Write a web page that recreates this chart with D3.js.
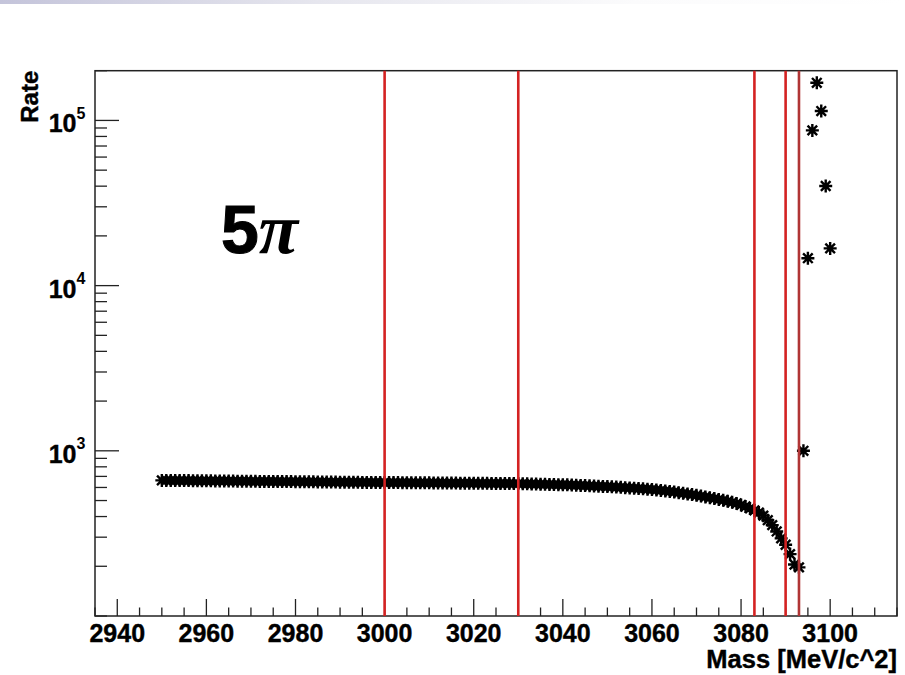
<!DOCTYPE html>
<html><head><meta charset="utf-8">
<script src="https://cdn.jsdelivr.net/npm/d3@7"></script>
<style>body{margin:0;background:#fff}svg{display:block}</style>
</head><body>
<script>
// ---- data ----
const curveStartMass = 2950;
const curveRates = [
 662,662,661,661,660,660,660,659,659,658,
 658,658,657,657,657,656,656,655,655,655,
 654,654,653,653,653,652,652,651,651,651,
 650,650,649,649,649,648,648,647,647,647,
 646,646,645,645,645,644,644,644,643,643,
 643,642,642,642,641,641,641,640,640,640,
 640,639,639,639,638,638,638,637,637,637,
 637,636,636,636,635,635,634,634,634,633,
 633,632,631,630,629,628,627,626,625,624,
 623,622,620,619,617,616,614,612,610,609,
 607,605,603,601,598,596,594,591,589,586,
 583,580,576,572,568,563,558,553,548,543,
 538,532,526,520,514,508,502,495,488,480,
 470,460,448,436,423,405,380,355,325,295,
 270,237,205,197
];
const curveMasses = curveRates.map((_, i) => curveStartMass + i);
const peakMasses = [3094, 3095, 3096, 3097, 3098, 3099, 3100];
const peakRates  = [1000, 14650, 87000, 169000, 114000, 40100, 16800];
const cutMasses = [3000, 3030, 3083, 3090, 3093];
const xMajorTicks = [2940, 2960, 2980, 3000, 3020, 3040, 3060, 3080, 3100];
const yDecadeExps = [3, 4, 5];
const xDomain = [2935, 3115];
const yDomain = [100, 200000];
const xTitle = "Mass [MeV/c^2]";
const yTitle = "Rate";
const channelLabel = ["5", "π"];

// ---- layout ----
const W = 905, H = 675;
const L = 95, R = 897, T = 70.7, B = 616;
const svg = d3.select("body").append("svg").attr("width", W).attr("height", H);
svg.append("rect").attr("width", W).attr("height", H).attr("fill", "#fff");

// top gradient band
const defs = svg.append("defs");
const gr = defs.append("linearGradient").attr("id", "topg").attr("x1", "0").attr("x2", "1");
gr.append("stop").attr("offset", "0").attr("stop-color", "#c4c4da");
gr.append("stop").attr("offset", "0.35").attr("stop-color", "#e6e6ee");
gr.append("stop").attr("offset", "0.7").attr("stop-color", "#fbfbfc");
gr.append("stop").attr("offset", "1").attr("stop-color", "#ffffff");
svg.append("rect").attr("x", 0).attr("y", 0).attr("width", W).attr("height", 4).attr("fill", "url(#topg)");

const x = d3.scaleLinear().domain(xDomain).range([L, R]);
const y = d3.scaleLog().domain(yDomain).range([B, T]);

const FONT = "'Liberation Sans', Arial, Helvetica, sans-serif";
const axisColor = "#222";

// x axis ticks
const xAll = d3.range(xDomain[0], xDomain[1] + 0.01, 5);
const xAxis = d3.axisBottom(x).tickValues(xAll).tickSize(0).tickFormat("");
svg.append("g").attr("transform", `translate(0,${B})`).call(xAxis).call(g => g.select(".domain").remove());
svg.append("g").selectAll("line").data(xAll).join("line")
  .attr("x1", d => x(d)).attr("x2", d => x(d))
  .attr("y1", B).attr("y2", d => B - (xMajorTicks.includes(d) ? 17 : 8.5))
  .attr("stroke", axisColor).attr("stroke-width", 1.3);
svg.append("g").selectAll("text").data(xMajorTicks).join("text")
  .attr("x", d => x(d)).attr("y", 641.5)
  .attr("text-anchor", "middle")
  .attr("font-family", FONT).attr("font-weight", "bold").attr("font-size", 25)
  .attr("stroke", "#000").attr("stroke-width", 0.4)
  .attr("fill", "#000").text(d => d);

// y axis ticks
const yMinor = [];
for (let e = 2; e <= 5; e++) for (let m = 1; m <= 9; m++) {
  const v = m * Math.pow(10, e);
  if (v >= yDomain[0] && v <= yDomain[1]) yMinor.push(v);
}
svg.append("g").selectAll("line").data(yMinor).join("line")
  .attr("x1", L).attr("x2", d => L + (yDecadeExps.some(e => Math.abs(Math.pow(10, e) - d) < 1e-6) ? 24 : 12))
  .attr("y1", d => y(d)).attr("y2", d => y(d))
  .attr("stroke", axisColor).attr("stroke-width", 1.3);
svg.append("g").selectAll("text").data(yDecadeExps).join("text")
  .attr("x", 76.5).attr("y", d => y(Math.pow(10, d)) + 12)
  .attr("text-anchor", "end")
  .attr("font-family", FONT).attr("font-weight", "bold").attr("font-size", 25)
  .attr("stroke", "#000").attr("stroke-width", 0.4)
  .attr("fill", "#000").text("10");
svg.append("g").selectAll("text").data(yDecadeExps).join("text")
  .attr("x", 76.5).attr("y", d => y(Math.pow(10, d)) - 1.5)
  .attr("font-family", FONT).attr("font-weight", "bold").attr("font-size", 16)
  .attr("fill", "#000").text(d => d);

// frame
svg.append("rect").attr("x", L).attr("y", T).attr("width", R - L).attr("height", B - T)
  .attr("fill", "none").attr("stroke", axisColor).attr("stroke-width", 1.5);

// markers
const star = "M-6.5,0H6.5M0,-6.5V6.5M-4.8,-4.8L4.8,4.8M-4.8,4.8L4.8,-4.8";
const pts = curveMasses.map((m, i) => [m, curveRates[i]])
  .concat(peakMasses.map((m, i) => [m, peakRates[i]]));
svg.append("g").selectAll("path").data(pts).join("path")
  .attr("d", star)
  .attr("transform", d => `translate(${x(d[0])},${y(d[1])})`)
  .attr("stroke", "#000").attr("stroke-width", 2.4).attr("fill", "none");

// red cut lines
svg.append("g").selectAll("line").data(cutMasses).join("line")
  .attr("x1", d => x(d)).attr("x2", d => x(d))
  .attr("y1", T).attr("y2", B)
  .attr("stroke", (d, i) => i === cutMasses.length - 1 ? "#b03535" : "#d42222")
  .attr("stroke-width", 2.6);

// titles
svg.append("text").attr("x", R).attr("y", 668).attr("text-anchor", "end")
  .attr("font-family", FONT).attr("font-weight", "bold").attr("font-size", 25.5)
  .attr("stroke", "#000").attr("stroke-width", 0.4)
  .attr("fill", "#000").text(xTitle);
svg.append("text").attr("transform", `translate(38,${T}) rotate(-90)`).attr("text-anchor", "end")
  .attr("font-family", FONT).attr("font-weight", "bold").attr("font-size", 24)
  .attr("stroke", "#000").attr("stroke-width", 0.4)
  .attr("fill", "#000").text(yTitle);

// channel label
const lab = svg.append("text").attr("x", 221).attr("y", 253).attr("fill", "#000");
lab.append("tspan").attr("font-family", FONT).attr("font-weight", "bold").attr("font-size", 68)
  .attr("stroke", "#000").attr("stroke-width", 1).text(channelLabel[0]);
lab.append("tspan").attr("font-family", "'Liberation Serif', 'DejaVu Serif', serif")
  .attr("font-style", "italic").attr("font-weight", "bold").attr("font-size", 72)
  .attr("dx", 0).text(channelLabel[1]);
</script>
</body></html>
